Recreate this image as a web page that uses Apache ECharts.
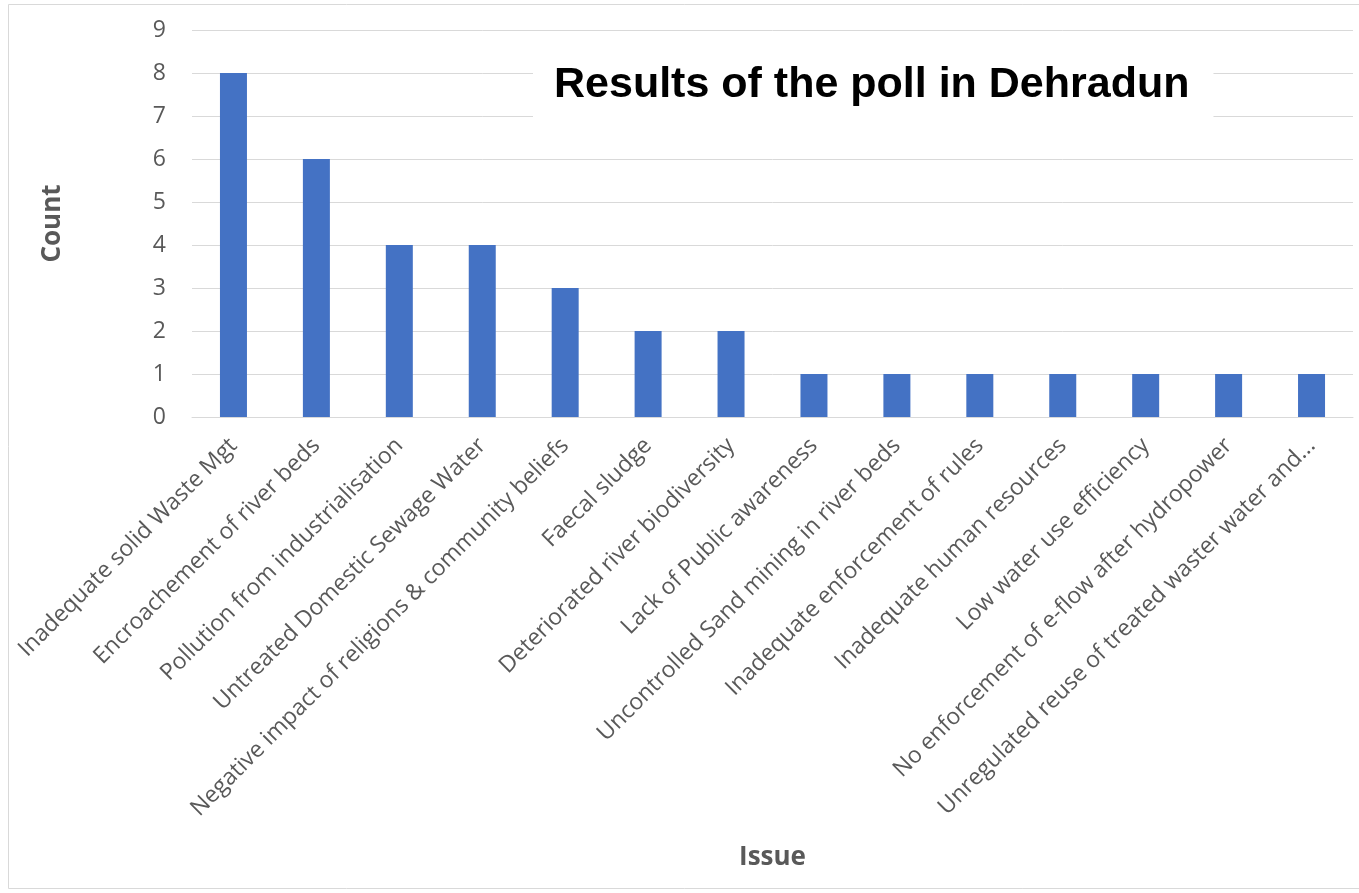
<!DOCTYPE html>
<html>
<head>
<meta charset="utf-8">
<script src="https://cdn.jsdelivr.net/npm/echarts@6/dist/echarts.min.js"></script>
<style>
  html, body { margin: 0; padding: 0; background: #fff; }
  #main { width: 1359px; height: 893px; }
</style>
</head>
<body>
<div id="main"></div>
<script>
const issues = [
  'Inadequate solid Waste Mgt',
  'Encroachement of river beds',
  'Pollution from industrialisation',
  'Untreated Domestic Sewage Water',
  'Negative impact of religions & community beliefs',
  'Faecal sludge',
  'Deteriorated river biodiversity',
  'Lack of Public awareness',
  'Uncontrolled Sand mining in river beds',
  'Inadequate enforcement of rules',
  'Inadequate human resources',
  'Low water use efficiency',
  'No enforcement of e-flow after hydropower',
  'Unregulated reuse of treated waster water and...'
]
const counts = [8, 6, 4, 4, 3, 2, 2, 1, 1, 1, 1, 1, 1, 1]

const myChart = echarts.init(document.getElementById('main'))

const option = {
  animation: false,
  backgroundColor: '#fff',
  title: {
    text: 'Results of the poll in Dehradun',
    left: 533,
    top: 52,
    padding: [12, 24, 12, 21],
    backgroundColor: '#fff',
    textStyle: {
      fontFamily: 'Liberation Sans, Arial',
      fontWeight: 'bold',
      fontSize: 43,
      color: '#000'
    }
  },
  graphic: [{
    type: 'rect',
    shape: { x: 8.5, y: 4.5, width: 1360, height: 884 },
    style: { fill: 'none', stroke: '#d9d9d9', lineWidth: 1 },
    silent: true
  }],
  grid: { left: 192, right: 6, top: 30, bottom: 476 },
  xAxis: {
    type: 'category',
    data: issues,
    name: 'Issue',
    nameLocation: 'middle',
    nameGap: 428,
    nameTextStyle: { fontFamily: 'Open Sans', fontWeight: 'bold', fontSize: 26, color: '#595959' },
    axisLine: { lineStyle: { color: '#d9d9d9', width: 1 } },
    axisTick: { show: false },
    axisLabel: {
      interval: 0,
      rotate: 45,
      margin: 25,
      fontFamily: 'Open Sans',
      fontSize: 23,
      color: '#595959'
    }
  },
  yAxis: {
    type: 'value',
    min: 0,
    max: 9,
    interval: 1,
    name: 'Count',
    nameLocation: 'middle',
    nameGap: 126,
    nameTextStyle: { fontFamily: 'Open Sans', fontWeight: 'bold', fontSize: 26, color: '#595959' },
    axisLabel: { fontFamily: 'Open Sans', fontSize: 23, color: '#595959', margin: 26 },
    splitLine: { lineStyle: { color: '#d9d9d9', width: 1 } }
  },
  series: [{
    type: 'bar',
    data: counts,
    barWidth: 27,
    itemStyle: { color: '#4472c4' }
  }]
}

myChart.setOption(option)
</script>
</body>
</html>
